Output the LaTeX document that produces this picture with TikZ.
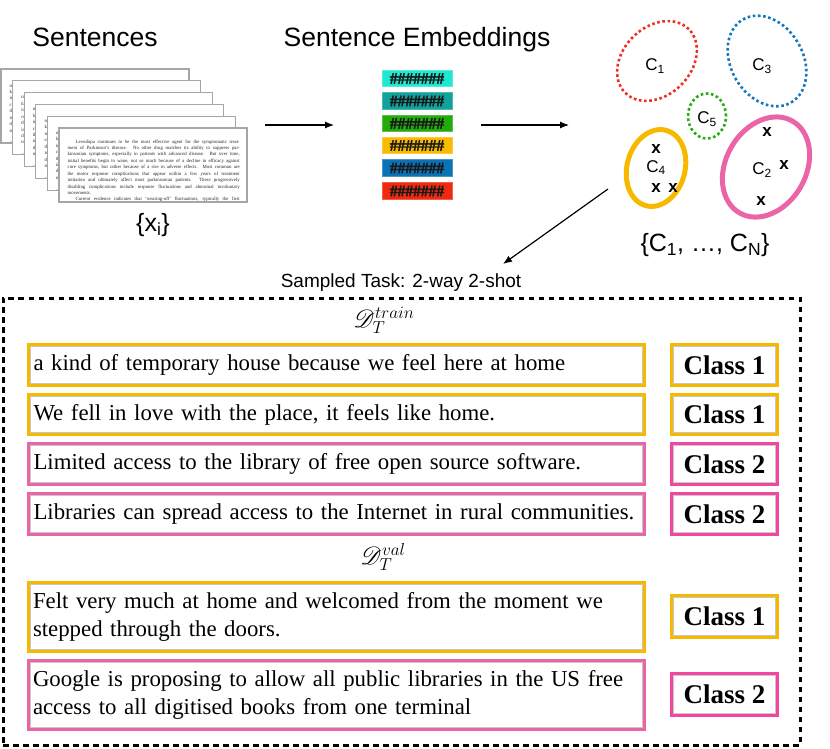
\documentclass[tikz,border=0pt]{standalone}
\usepackage{fontspec}
\usepackage{mathrsfs}
\setmainfont{Liberation Serif}
\setsansfont{Liberation Sans}
\newfontfamily\hashfont[FakeBold=2.5]{Liberation Serif Bold}
\usetikzlibrary{arrows.meta,shapes.geometric,calc}
\definecolor{myorange}{RGB}{246,185,0}
\definecolor{rowpink}{RGB}{236,100,168}
\definecolor{clspink}{RGB}{243,70,160}
\definecolor{cred}{RGB}{238,48,30}
\definecolor{cblue}{RGB}{20,120,190}
\definecolor{cgreen}{RGB}{40,170,20}
\definecolor{ecyan}{RGB}{30,232,210}
\definecolor{eteal}{RGB}{17,163,155}
\definecolor{egreen}{RGB}{34,172,11}
\definecolor{eyellow}{RGB}{249,187,0}
\definecolor{eblue}{RGB}{12,114,184}
\definecolor{ered}{RGB}{238,42,16}
\newcommand{\levtext}{\hspace*{8pt}Levodopa continues to be the most effective agent for the symptomatic treat-\linebreak ment of Parkinson's disease. No other drug matches its ability to suppress par-\linebreak kinsonian symptoms, especially in patients with advanced disease. But over time,\linebreak initial benefits begin to wane, not so much because of a decline in efficacy against\linebreak core symptoms, but rather because of a rise in adverse effects. Most common are\linebreak the motor response complications that appear within a few years of treatment\linebreak initiation and ultimately affect most parkinsonian patients. These progressively\linebreak disabling complications include response fluctuations and abnormal involuntary\linebreak movements.\par\hspace*{8pt}Current evidence indicates that ‘wearing-off’ fluctuations, typically the first\linebreak motor complication to become clinically evident, initially reflect the loss of}
\newcommand{\levstart}{\\me\\kin\\ini\\cor\\the\\ini\\dis\\mo\\\\mo}
\begin{document}
\begin{tikzpicture}[x=1pt,y=-1pt,
  title/.style={font=\sffamily\fontsize{26.5}{30}\selectfont, inner sep=0pt, anchor=base},
  embar/.style={fill=#1, draw=#1!75!white, line width=0.6pt, minimum width=70pt, minimum height=16.5pt, inner sep=0pt, font=\hashfont\fontsize{15.5}{15.5}\selectfont, text=black!90},
  clus/.style={ellipse, draw=#1, dash pattern=on 2.6pt off 2.6pt, line width=2.6pt, inner sep=0pt},
  clsel/.style={ellipse, draw=#1, line width=5pt, inner sep=0pt},
  clab/.style={font=\sffamily\fontsize{17}{17}\selectfont, inner sep=0pt},
  xmark/.style={font=\sffamily\bfseries\fontsize{17}{17}\selectfont, inner sep=0pt},
  settxt/.style={font=\sffamily\fontsize{25}{25}\selectfont, inner sep=0pt},
  arr/.style={-{Latex[length=9pt,width=7pt]}, line width=1.2pt},
  pagetext/.style={text width=172pt, align=justify, inner sep=0pt, text=black!85, font=\fontsize{4.8}{6.43}\selectfont},
  backtext/.style={align=left, inner sep=0pt, text=black!85, font=\fontsize{4.8}{6.43}\selectfont},
  rowbox/.style={draw=#1, line width=3pt, fill=white, minimum width=616pt, text width=606pt, inner xsep=5pt, inner ysep=0pt, align=left, outer sep=0pt, font=\fontsize{22.8}{28}\selectfont},
  clsbox/.style={draw=#1, line width=3pt, fill=white, minimum width=106pt, inner sep=0pt, outer sep=0pt, font=\bfseries\fontsize{27}{27}\selectfont},
  inline/.style={draw=black!22, line width=0.5pt},
  dlabel/.style={font=\fontsize{24}{28}\selectfont, inner sep=0pt}
]
\useasboundingbox (0,0) rectangle (830,749);

% titles
\node[title] (t1) at (95,46.5) {Sentences};
\node[title] (t2) at (417,46.5) {Sentence Embeddings};

% page stack (back pages show only their left margin)
\foreach \i in {0,...,4}{
  \begin{scope}[shift={(11.6*\i,11.8*\i)}]
    \fill[white] (1,69) rectangle (189,143);
    \begin{scope}
      \clip (1,69) rectangle (12.6,143);
      \node[backtext, anchor=north west] at (9.5,80.5) {\levstart};
    \end{scope}
    \draw[black!35, line width=1.2pt] (1,69) rectangle (189,143);
  \end{scope}
}
\begin{scope}[shift={(58,59)}]
  \fill[white] (1,69) rectangle (189,143);
  \begin{scope}
    \clip (1,69) rectangle (189,143);
    \node[pagetext, anchor=north west] (doc) at (9.5,80.5) {\levtext};
  \end{scope}
  \draw[black!35, line width=1.2pt] (1,69) rectangle (189,143);
\end{scope}
\node[settxt] (xi) at (153,225) {\{x\textsubscript{i}\}};

% arrows to embeddings
\coordinate (a1s) at (265,125);
\coordinate (a1e) at (334,125);
\draw[arr] (a1s) -- (a1e);

% embedding bars
\node[embar=ecyan]   (e1) at (417,78.5) {\#\#\#\#\#\#\#};
\node[embar=eteal]   (e2) at (417,101) {\#\#\#\#\#\#\#};
\node[embar=egreen]  (e3) at (417,123.5) {\#\#\#\#\#\#\#};
\node[embar=eyellow] (e4) at (417,145.5) {\#\#\#\#\#\#\#};
\node[embar=eblue]   (e5) at (417,168) {\#\#\#\#\#\#\#};
\node[embar=ered]    (e6) at (417,191) {\#\#\#\#\#\#\#};

\coordinate (a2s) at (481,125);
\coordinate (a2e) at (569,125);
\draw[arr] (a2s) -- (a2e);

% clusters
\node[clus=cred, minimum width=90pt, minimum height=68pt, rotate=45] (k1) at (657,61) {};
\node[clus=cblue, minimum width=96pt, minimum height=72pt, rotate=-60] (k3) at (767,61) {};
\node[clus=cgreen, minimum width=38pt, minimum height=45pt] (k5) at (707,116) {};
\node[clsel=myorange, minimum width=58pt, minimum height=78pt, rotate=-15] (k4) at (656,168) {};
\node[clsel=rowpink, minimum width=80pt, minimum height=106pt, rotate=-30] (k2) at (766,167) {};
\node[clab] (l1) at (655,66) {C\textsubscript{1}};
\node[clab] (l3) at (762,66) {C\textsubscript{3}};
\node[clab] (l5) at (707,119) {C\textsubscript{5}};
\node[clab] (l4) at (656,167.5) {C\textsubscript{4}};
\node[clab] (l2) at (762,170) {C\textsubscript{2}};
\node[xmark] (x41) at (656,149) {x};
\node[xmark] (x42) at (656,188) {x};
\node[xmark] (x43) at (673,188) {x};
\node[xmark] (x21) at (767,132) {x};
\node[xmark] (x22) at (784,165) {x};
\node[xmark] (x23) at (761,201) {x};
\node[settxt] (cset) at (705,245) {\{C\textsubscript{1}, …, C\textsubscript{N}\}};

\coordinate (a3s) at (608,189);
\coordinate (a3e) at (503,264);
\draw[arr] (a3s) -- (a3e);

% sampled task
\node[font=\sffamily\fontsize{19}{19}\selectfont, inner sep=0pt, anchor=base] (task) at (401,287) {Sampled Task: 2-way 2-shot};
\node[draw, line width=3pt, dash pattern=on 5.5pt off 4.5pt, minimum width=797pt, minimum height=447pt, inner sep=0pt] (tbox) at (401.5,521.5) {};

\node[dlabel] (dtrain) at (384,320) {$\mathscr{D}_T^{train}$};
\node[dlabel] (dval) at (383,557) {$\mathscr{D}_T^{val}$};

% rows
\node[rowbox=myorange, minimum height=41pt] (s1) at (336.5,365) {\mbox{a kind of temporary house because we feel here at home}};
\node[rowbox=myorange, minimum height=40pt] (s2) at (336.5,414.5) {\mbox{We fell in love with the place, it feels like home.}};
\node[rowbox=rowpink, minimum height=41pt] (s3) at (336.5,464) {\mbox{Limited access to the library of free open source software.}};
\node[rowbox=rowpink, minimum height=41pt] (s4) at (336.5,514) {\mbox{Libraries can spread access to the Internet in rural communities.}};
\node[rowbox=myorange, minimum height=69pt] (s5) at (336,617) {\mbox{Felt very much at home and welcomed from the moment we}\\\mbox{stepped through the doors.}};
\node[rowbox=rowpink, minimum height=69pt] (s6) at (336,695) {\mbox{Google is proposing to allow all public libraries in the US free}\\\mbox{access to all digitised books from one terminal}};

\node[clsbox=myorange, minimum height=41pt] (c1) at (724.5,365) {Class 1};
\node[clsbox=myorange, minimum height=40pt] (c2) at (724.5,414.5) {Class 1};
\node[clsbox=clspink, minimum height=41pt] (c3) at (724.5,464) {Class 2};
\node[clsbox=clspink, minimum height=41pt] (c4) at (724.5,514) {Class 2};
\node[clsbox=myorange, minimum height=42pt] (c5) at (724.5,616.5) {Class 1};
\node[clsbox=clspink, minimum height=42pt] (c6) at (724.5,694.5) {Class 2};

\foreach \n in {s1,s2,s3,s4,s5,s6,c1,c2,c3,c4,c5,c6}{
  \draw[inline] ($(\n.north west)+(2,2)$) rectangle ($(\n.south east)+(-2,-2)$);
}
\end{tikzpicture}
\end{document}
